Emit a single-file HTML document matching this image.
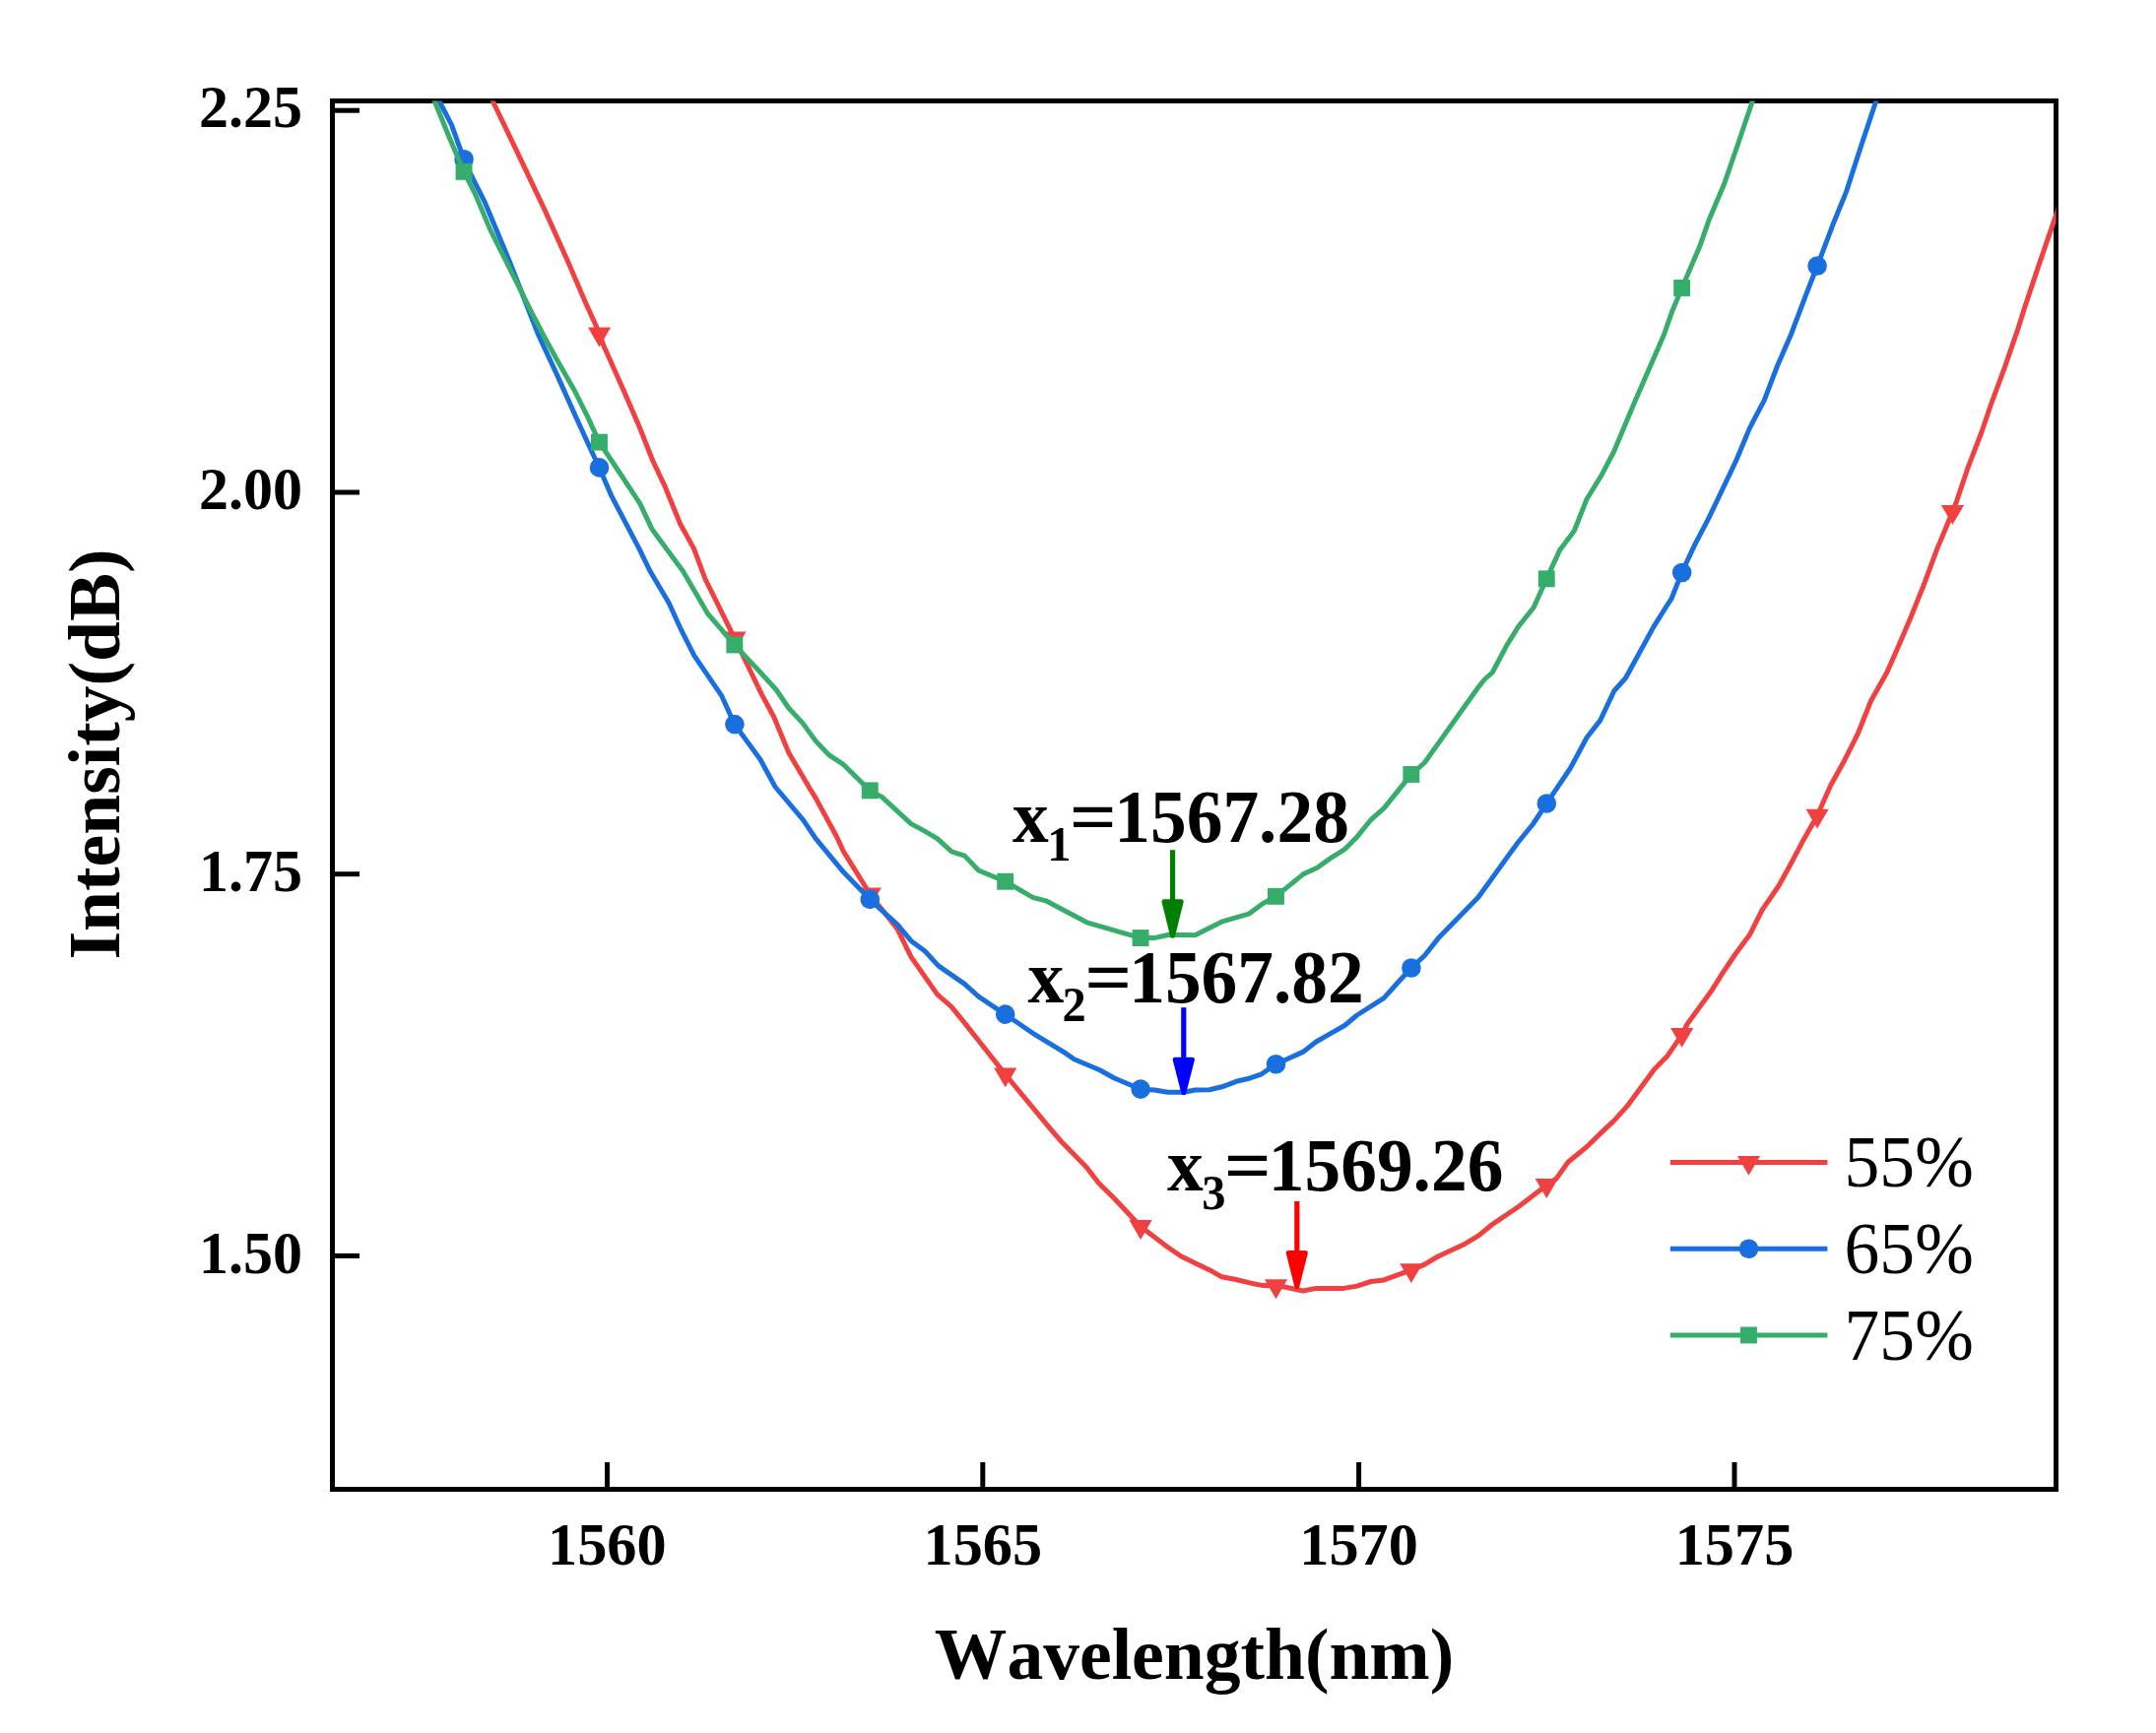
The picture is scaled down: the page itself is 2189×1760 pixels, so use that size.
<!DOCTYPE html>
<html lang="en"><head><meta charset="utf-8"><title>Intensity vs Wavelength</title>
<style>html,body{margin:0;padding:0;background:#fff}body{width:2189px;height:1760px;position:relative;overflow:hidden}text{font-kerning:none;fill:#000}</style>
</head><body>
<svg width="2189" height="1760" viewBox="0 0 2189 1760" style="position:absolute;left:0;top:0">
<defs><clipPath id="cp"><rect x="337.5" y="102.5" width="1750" height="1410"/></clipPath></defs>
<rect x="337.5" y="102.5" width="1750" height="1410" fill="none" stroke="#000" stroke-width="5"/>
<line x1="616.5" y1="1485" x2="616.5" y2="1511" stroke="#000" stroke-width="5"/>
<line x1="997.8" y1="1485" x2="997.8" y2="1511" stroke="#000" stroke-width="5"/>
<line x1="1379.6" y1="1485" x2="1379.6" y2="1511" stroke="#000" stroke-width="5"/>
<line x1="1761.0" y1="1485" x2="1761.0" y2="1511" stroke="#000" stroke-width="5"/>
<line x1="339" y1="112.2" x2="365" y2="112.2" stroke="#000" stroke-width="5"/>
<line x1="339" y1="500" x2="365" y2="500" stroke="#000" stroke-width="5"/>
<line x1="339" y1="887.7" x2="365" y2="887.7" stroke="#000" stroke-width="5"/>
<line x1="339" y1="1275.4" x2="365" y2="1275.4" stroke="#000" stroke-width="5"/>
<g clip-path="url(#cp)">
<path d="M495.5,92.7 L500.7,103.5 L525.7,155.7 L552.2,211.3 L577.2,267.0 L593.9,305.9 L605.7,332.0 L613.3,351.9 L632.2,394.3 L649.6,434.6 L662.8,468.0 L675.3,494.4 L690.6,532.0 L704.5,557.1 L716.0,588.0 L745.9,648.3 L773.3,705.1 L785.8,728.3 L800.7,764.2 L821.7,800.0 L828.3,810.6 L849.6,850.0 L856.5,864.9 L883.9,909.0 L911.3,943.8 L924.9,971.6 L951.6,1009.9 L966.2,1022.6 L979.4,1038.9 L1021.2,1091.7 L1061.8,1140.9 L1078.0,1159.8 L1103.2,1185.5 L1115.5,1201.5 L1131.0,1216.8 L1158.2,1245.8 L1185.8,1266.7 L1199.4,1276.0 L1228.4,1289.9 L1240.5,1296.8 L1253.9,1299.2 L1270.0,1303.1 L1282.8,1305.6 L1295.5,1305.9 L1304.3,1307.0 L1323.0,1311.0 L1336.3,1308.4 L1364.1,1308.4 L1377.8,1306.1 L1391.9,1301.5 L1405.1,1299.9 L1432.7,1289.9 L1446.4,1284.1 L1460.1,1276.0 L1487.5,1263.2 L1500.9,1255.1 L1515.1,1243.5 L1542.4,1225.0 L1569.8,1204.1 L1580.0,1197.1 L1592.2,1180.0 L1610.7,1165.0 L1624.9,1151.1 L1639.7,1137.1 L1652.2,1123.2 L1679.6,1086.1 L1693.1,1072.2 L1707.0,1051.8 L1713.1,1040.0 L1720.9,1029.3 L1737.3,1006.8 L1748.7,988.7 L1761.9,969.0 L1776.5,949.3 L1789.3,923.8 L1805.7,900.0 L1816.9,879.8 L1830.1,854.8 L1844.9,828.7 L1858.6,797.7 L1872.5,772.7 L1886.4,744.9 L1899.7,711.5 L1915.6,683.2 L1925.7,660.6 L1939.1,629.2 L1953.1,594.4 L1967.0,556.9 L1980.6,524.3 L1986.4,509.6 L1997.6,476.2 L2011.5,440.0 L2021.2,411.5 L2035.1,373.9 L2049.0,333.6 L2056.0,311.3 L2069.9,269.6 L2086.4,221.6 L2090.3,210.3" fill="none" stroke="#F14040" stroke-width="5.0" stroke-linejoin="round" stroke-linecap="butt"/>
<polygon points="596.9,332.6 620.1,332.6 608.5,352.5" fill="#F14040"/>
<polygon points="734.3,641.6 757.5,641.6 745.9,661.5" fill="#F14040"/>
<polygon points="871.7,901.4 894.9,901.4 883.3,921.3" fill="#F14040"/>
<polygon points="1009.1,1084.4 1032.3,1084.4 1020.7,1104.3" fill="#F14040"/>
<polygon points="1146.5,1239.0 1169.7,1239.0 1158.1,1258.9" fill="#F14040"/>
<polygon points="1283.9,1299.3 1307.1,1299.3 1295.5,1319.2" fill="#F14040"/>
<polygon points="1421.3,1283.2 1444.5,1283.2 1432.9,1303.1" fill="#F14040"/>
<polygon points="1558.7,1197.1 1581.9,1197.1 1570.3,1217.0" fill="#F14040"/>
<polygon points="1696.1,1043.9 1719.3,1043.9 1707.7,1063.8" fill="#F14040"/>
<polygon points="1833.5,821.7 1856.7,821.7 1845.1,841.6" fill="#F14040"/>
<polygon points="1970.9,512.9 1994.1,512.9 1982.5,532.8" fill="#F14040"/>
<path d="M440.9,92.9 L446.4,103.5 L458.3,126.4 L471.1,161.9 L479.8,180.7 L492.4,205.7 L503.5,232.2 L517.4,265.6 L546.6,340.0 L565.4,380.4 L583.5,420.7 L597.4,451.3 L608.5,475.0 L621.1,504.2 L635.0,530.6 L648.9,557.1 L660.0,580.0 L679.1,612.3 L690.7,637.8 L704.7,665.7 L732.5,706.3 L745.9,735.7 L771.9,771.2 L787.0,799.0 L815.4,832.6 L828.2,851.6 L856.5,885.8 L883.9,914.1 L911.3,939.1 L924.9,955.4 L938.9,965.8 L952.8,980.9 L979.4,999.4 L993.6,1012.2 L1021.2,1030.5 L1048.6,1049.3 L1080.0,1068.4 L1090.6,1075.7 L1116.7,1086.7 L1131.0,1094.8 L1158.2,1106.2 L1172.3,1107.0 L1185.7,1109.3 L1201.9,1109.3 L1213.2,1107.0 L1228.0,1106.8 L1240.5,1103.8 L1255.2,1098.3 L1268.0,1095.3 L1280.9,1090.8 L1295.4,1080.7 L1322.8,1068.4 L1336.3,1058.0 L1350.4,1049.9 L1365.2,1041.5 L1377.8,1031.0 L1405.1,1013.6 L1418.6,998.5 L1432.7,983.2 L1446.4,970.5 L1460.1,953.1 L1500.9,911.3 L1541.2,855.5 L1556.4,837.0 L1569.8,816.7 L1594.5,780.0 L1611.1,749.0 L1624.7,731.6 L1638.9,701.5 L1650.4,688.8 L1678.9,636.6 L1691.5,616.5 L1697.1,607.8 L1708.5,579.4 L1720.9,552.9 L1734.8,526.4 L1762.6,468.0 L1776.5,434.6 L1791.1,406.8 L1804.4,372.0 L1818.3,340.0 L1834.3,297.6 L1848.2,262.0 L1862.1,225.2 L1874.6,194.6 L1889.9,147.3 L1904.5,103.5 L1908.3,92.1" fill="none" stroke="#1A6FDF" stroke-width="5.0" stroke-linejoin="round" stroke-linecap="butt"/>
<circle cx="471.1" cy="161.8" r="9.8" fill="#1A6FDF"/>
<circle cx="608.5" cy="474.9" r="9.8" fill="#1A6FDF"/>
<circle cx="745.9" cy="735.6" r="9.8" fill="#1A6FDF"/>
<circle cx="883.3" cy="913.4" r="9.8" fill="#1A6FDF"/>
<circle cx="1020.7" cy="1030.1" r="9.8" fill="#1A6FDF"/>
<circle cx="1158.1" cy="1106.1" r="9.8" fill="#1A6FDF"/>
<circle cx="1295.5" cy="1080.7" r="9.8" fill="#1A6FDF"/>
<circle cx="1432.9" cy="983.0" r="9.8" fill="#1A6FDF"/>
<circle cx="1570.3" cy="816.0" r="9.8" fill="#1A6FDF"/>
<circle cx="1707.7" cy="581.5" r="9.8" fill="#1A6FDF"/>
<circle cx="1845.1" cy="270.0" r="9.8" fill="#1A6FDF"/>
<path d="M437.1,92.4 L441.6,103.5 L454.8,136.2 L471.1,174.4 L482.6,197.4 L497.9,233.6 L517.4,272.5 L539.7,317.1 L551.5,340.0 L566.8,367.8 L583.5,397.0 L597.4,424.9 L608.5,449.2 L621.1,468.0 L649.6,511.1 L662.1,537.6 L679.5,561.2 L693.4,580.0 L718.3,622.8 L745.9,655.0 L773.3,684.2 L788.1,700.5 L800.7,719.0 L814.8,734.1 L828.3,752.6 L841.5,766.6 L855.6,775.8 L883.5,803.1 L895.4,809.4 L910.6,823.4 L925.0,836.6 L938.0,843.6 L951.6,851.6 L966.2,864.9 L979.4,869.1 L993.6,884.0 L1021.2,895.5 L1048.6,911.3 L1061.8,914.8 L1103.5,936.8 L1158.2,952.6 L1171.9,952.6 L1187.1,949.3 L1213.4,949.7 L1240.3,936.2 L1267.8,928.2 L1282.0,917.7 L1295.4,910.4 L1322.8,888.1 L1337.4,881.2 L1350.4,871.9 L1365.2,862.6 L1377.8,849.9 L1391.9,832.5 L1405.1,820.9 L1432.7,786.6 L1446.4,774.5 L1500.9,698.0 L1507.3,690.0 L1515.2,683.0 L1529.6,655.8 L1541.4,636.6 L1557.1,617.0 L1572.0,584.0 L1583.8,558.4 L1598.4,539.0 L1611.0,507.0 L1625.6,483.3 L1638.1,459.7 L1659.7,408.2 L1689.4,340.0 L1697.9,315.7 L1707.4,293.1 L1725.7,250.3 L1735.5,222.4 L1750.8,186.3 L1766.1,141.7 L1779.0,103.5 L1782.8,92.1" fill="none" stroke="#37AD6B" stroke-width="5.0" stroke-linejoin="round" stroke-linecap="butt"/>
<rect x="462.6" y="165.9" width="16.9" height="16.9" fill="#37AD6B"/>
<rect x="600.0" y="440.7" width="16.9" height="16.9" fill="#37AD6B"/>
<rect x="737.4" y="646.5" width="16.9" height="16.9" fill="#37AD6B"/>
<rect x="874.8" y="794.4" width="16.9" height="16.9" fill="#37AD6B"/>
<rect x="1012.2" y="886.8" width="16.9" height="16.9" fill="#37AD6B"/>
<rect x="1149.6" y="944.1" width="16.9" height="16.9" fill="#37AD6B"/>
<rect x="1287.0" y="901.9" width="16.9" height="16.9" fill="#37AD6B"/>
<rect x="1424.4" y="778.0" width="16.9" height="16.9" fill="#37AD6B"/>
<rect x="1561.8" y="579.4" width="16.9" height="16.9" fill="#37AD6B"/>
<rect x="1699.2" y="284.0" width="16.9" height="16.9" fill="#37AD6B"/>
</g>
<line x1="1190.6" y1="863.2" x2="1190.6" y2="916.2" stroke="#008000" stroke-width="5.2"/><polygon points="1182.0,915.7 1199.2,915.7 1190.6,950.3" fill="#008000" stroke="#008000" stroke-width="5.0" stroke-linejoin="round"/>
<line x1="1201.8" y1="1023.2" x2="1201.8" y2="1076.7" stroke="#0000FF" stroke-width="5.2"/><polygon points="1193.2,1076.2 1210.4,1076.2 1201.8,1109.7" fill="#0000FF" stroke="#0000FF" stroke-width="5.0" stroke-linejoin="round"/>
<line x1="1316.8" y1="1220.0" x2="1316.8" y2="1272.9" stroke="#FF0000" stroke-width="5.2"/><polygon points="1308.2,1272.4 1325.4,1272.4 1316.8,1306.5" fill="#FF0000" stroke="#FF0000" stroke-width="5.0" stroke-linejoin="round"/>
<line x1="1695.8" y1="1180.5" x2="1855.4" y2="1180.5" stroke="#F14040" stroke-width="5"/>
<polygon points="1763.9,1173.9 1787.1,1173.9 1775.5,1193.8" fill="#F14040"/>
<line x1="1695.8" y1="1268.2" x2="1855.4" y2="1268.2" stroke="#1A6FDF" stroke-width="5"/>
<circle cx="1775.5" cy="1268.2" r="9.8" fill="#1A6FDF"/>
<line x1="1695.8" y1="1355.9" x2="1855.4" y2="1355.9" stroke="#37AD6B" stroke-width="5"/>
<rect x="1767.0" y="1347.5" width="16.9" height="16.9" fill="#37AD6B"/>
<text transform="translate(616.3,1589.3) scale(1.005,1.03)" font-size="60" text-anchor="middle" font-family="Liberation Serif, Times New Roman, serif" font-weight="bold">1560</text>
<text transform="translate(997.8,1589.3) scale(1.005,1.03)" font-size="60" text-anchor="middle" font-family="Liberation Serif, Times New Roman, serif" font-weight="bold">1565</text>
<text transform="translate(1379.6,1589.3) scale(1.005,1.03)" font-size="60" text-anchor="middle" font-family="Liberation Serif, Times New Roman, serif" font-weight="bold">1570</text>
<text transform="translate(1761.0,1589.3) scale(1.005,1.03)" font-size="60" text-anchor="middle" font-family="Liberation Serif, Times New Roman, serif" font-weight="bold">1575</text>
<text transform="translate(307.0,129.4) scale(1,1.03)" font-size="60" text-anchor="end" font-family="Liberation Serif, Times New Roman, serif" font-weight="bold">2.25</text>
<text transform="translate(307.0,517.3) scale(1,1.03)" font-size="60" text-anchor="end" font-family="Liberation Serif, Times New Roman, serif" font-weight="bold">2.00</text>
<text transform="translate(307.0,905.2) scale(1,1.03)" font-size="60" text-anchor="end" font-family="Liberation Serif, Times New Roman, serif" font-weight="bold">1.75</text>
<text transform="translate(307.0,1292.8) scale(1,1.03)" font-size="60" text-anchor="end" font-family="Liberation Serif, Times New Roman, serif" font-weight="bold">1.50</text>
<text transform="translate(1212.5,1704.8) scale(1,1.012)" font-size="73.6" text-anchor="middle" font-family="Liberation Serif, Times New Roman, serif" font-weight="bold">Wavelength(nm)</text>
<text transform="translate(121.2,766) rotate(-90) scale(1,1.012)" font-size="73.6" text-anchor="middle" font-family="Liberation Serif, Times New Roman, serif" font-weight="bold">Intensity(dB)</text>
<text transform="translate(1028.0,854.9) scale(1,1.03)" font-size="73.4" text-anchor="start" font-family="Liberation Serif, Times New Roman, serif" font-weight="bold">x<tspan font-size="48.5" dx="-1.5" dy="18.6">1</tspan></text><text transform="translate(1109.9,854.9) scale(1.15,1.03)" font-size="73.4" text-anchor="middle" font-family="Liberation Serif, Times New Roman, serif" font-weight="bold">=</text><text transform="translate(1131.3,854.9) scale(1,1.03)" font-size="73.4" text-anchor="start" font-family="Liberation Serif, Times New Roman, serif" font-weight="bold">1567.28</text>
<text transform="translate(1043.4,1018.2) scale(1,1.03)" font-size="73.4" text-anchor="start" font-family="Liberation Serif, Times New Roman, serif" font-weight="bold">x<tspan font-size="48.5" dx="-1.5" dy="18.6">2</tspan></text><text transform="translate(1125.3,1018.2) scale(1.15,1.03)" font-size="73.4" text-anchor="middle" font-family="Liberation Serif, Times New Roman, serif" font-weight="bold">=</text><text transform="translate(1146.2,1018.2) scale(1,1.03)" font-size="73.4" text-anchor="start" font-family="Liberation Serif, Times New Roman, serif" font-weight="bold">1567.82</text>
<text transform="translate(1185.0,1208.8) scale(1,1.03)" font-size="73.4" text-anchor="start" font-family="Liberation Serif, Times New Roman, serif" font-weight="bold">x<tspan font-size="48.5" dx="-1.5" dy="18.6">3</tspan></text><text transform="translate(1266.9,1208.8) scale(1.15,1.03)" font-size="73.4" text-anchor="middle" font-family="Liberation Serif, Times New Roman, serif" font-weight="bold">=</text><text transform="translate(1287.8,1208.8) scale(1,1.03)" font-size="73.4" text-anchor="start" font-family="Liberation Serif, Times New Roman, serif" font-weight="bold">1569.26</text>
<text transform="translate(1872.6,1205.1) scale(0.98,1)" font-size="73" text-anchor="start" font-family="Liberation Serif, Times New Roman, serif">55%</text>
<text transform="translate(1872.6,1292.8) scale(0.98,1)" font-size="73" text-anchor="start" font-family="Liberation Serif, Times New Roman, serif">65%</text>
<text transform="translate(1872.6,1380.5) scale(0.98,1)" font-size="73" text-anchor="start" font-family="Liberation Serif, Times New Roman, serif">75%</text>
</svg>
</body></html>
